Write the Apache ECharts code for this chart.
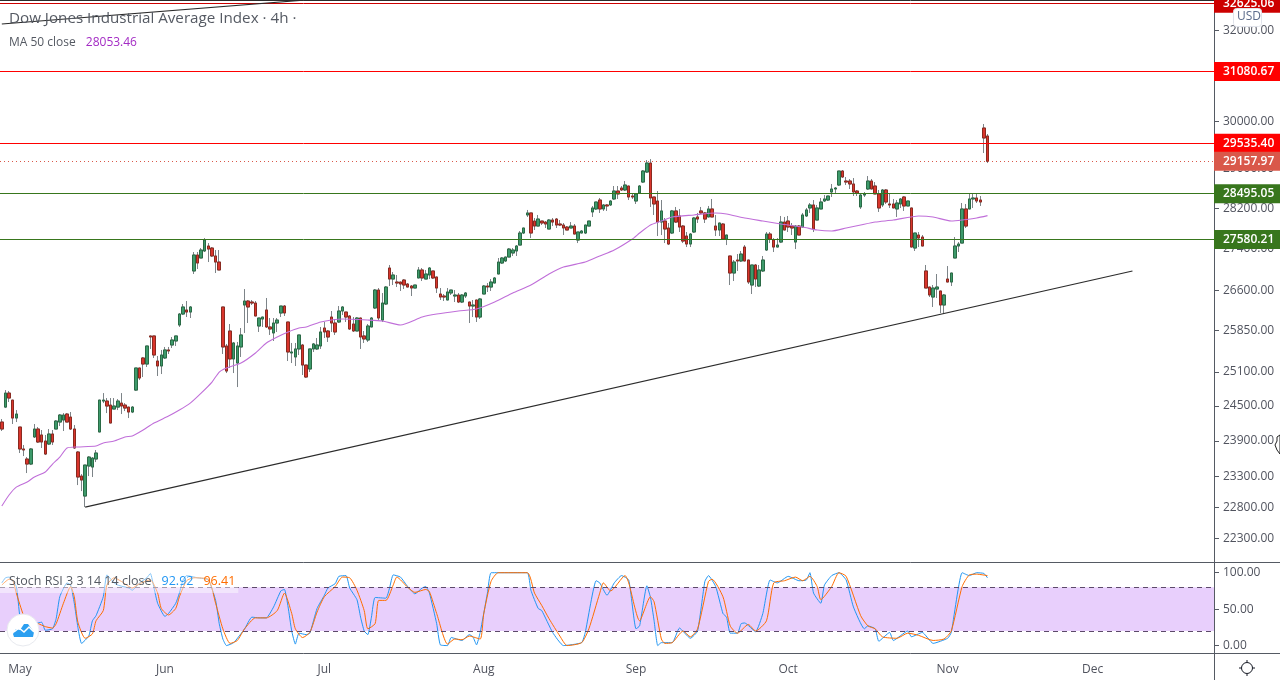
<!DOCTYPE html>
<html>
<head>
<meta charset="utf-8">
<title>Dow Jones Industrial Average Index 4h</title>
<script src="https://cdn.jsdelivr.net/npm/echarts@6/dist/echarts.min.js"></script>
<style>
html, body { margin: 0; padding: 0; background: #fff; }
#chart { width: 1280px; height: 680px; }
</style>
</head>
<body>
<div id="chart"></div>
<script>
// months on the time axis, and the bar each one starts on
var monthNames = ['May', 'Jun', 'Jul', 'Aug', 'Sep', 'Oct', 'Nov', 'Dec'];
var monthBars = [5, 45, 89, 133, 175, 217, 261, 301];
var barCount = 335; // includes the empty bars to the right of the last candle

var priceTicks = [32000, 30000, 29000, 28200, 27400, 26600, 25850, 25100, 24500, 23900, 23300, 22800, 22300];
var stochTicks = [0, 50, 100];

// open, close, low, high
var candles = [
[24223,24103,24069,24275],[24482,24727,24465,24780],[24727,24640,24570,24763],[24604,24292,24189,24604],[24292,24361,24223,24430],
[24137,23763,23695,24137],[23763,23746,23644,23830],[23594,23510,23360,23627],[23510,23763,23493,23780],[23967,24103,23950,24189],
[24103,23881,23864,24137],[24001,23881,23780,24086],[23898,23678,23661,24001],[23847,24018,23830,24103],[24018,23881,23830,24086],
[24103,24240,24103,24257],[24223,24344,24154,24361],[24257,24344,24069,24378],[24361,24223,24223,24378],[24309,24103,24086,24396],
[24103,23780,23763,24171],[23712,23294,23161,23729],[23310,23244,23062,23343],[22981,23493,22802,23493],[23477,23627,23310,23644],
[23460,23610,23294,23627],[23594,23695,23543,23746],[24052,24604,24052,24604],[24587,24604,24552,24727],[24587,24500,24378,24640],
[24517,24206,24206,24640],[24448,24500,24448,24640],[24482,24587,24430,24622],[24552,24500,24361,24727],[24517,24465,24413,24552],
[24482,24396,24292,24482],[24396,24482,24378,24500],[24780,25172,24763,25172],[25172,24993,24957,25172],[25352,25243,25011,25370],
[25243,25569,25190,25569],[25752,25733,25515,25752],[25752,25406,25352,25752],[25297,25208,25029,25388],[25208,25406,25064,25497],
[25352,25497,25334,25551],[25497,25479,25424,25551],[25587,25678,25533,25733],[25660,25752,25569,25752],[25953,26157,25917,26176],
[26157,26288,26138,26344],[26232,26194,26101,26400],[26194,26288,26083,26306],[26970,27278,26912,27336],[27278,27123,27008,27336],
[27220,27375,27220,27414],[27356,27570,27336,27609],[27453,27394,27142,27511],[27414,27259,27239,27433],[27259,27142,26931,27375],
[27142,26989,26989,27375],[26288,25551,25424,26288],[25569,25118,25082,25606],[25843,25334,25172,25972],[25334,25624,25082,25642],
[25261,25569,24833,25642],[25551,25770,25370,25898],[26325,26400,25807,26626],[26400,26288,25990,26419],[26381,26362,26325,26419],
[26362,26120,26120,26400],[25935,26083,25825,26083],[26064,26101,25917,26101],[26232,25917,25898,26457],[25917,25880,25770,26083],
[25807,25990,25660,26083],[25990,26045,25825,26083],[26176,26306,26101,26306],[26306,26176,26120,26325],[26009,25460,25297,26009],
[25442,25460,25261,25624],[25370,25515,25208,25624],[25515,25770,25406,25770],[25587,25225,25047,25606],[25225,25011,24993,25225],
[25154,25515,25100,25515],[25515,25606,25460,25624],[25515,25587,25497,25715],[25569,25825,25515,25917],[25898,25825,25715,26009],
[25843,25733,25642,25862],[26101,25990,25825,26213],[25990,25825,25770,26064],[26009,26213,25990,26306],[26213,26288,26138,26306],
[26194,26101,26009,26194],[26120,25880,25862,26138],[25972,25843,25825,26101],[25843,26083,25843,26101],[26083,25733,25515,26083],
[25752,25697,25624,25843],[25678,25935,25642,25972],[25917,26083,25917,26101],[26269,26607,26250,26626],[26607,26083,26045,26645],
[26045,26362,26009,26551],[26344,26664,26325,26683],[27027,26816,26683,27085],[26816,26893,26702,26950],[26759,26740,26664,26893],
[26759,26721,26589,26759],[26797,26702,26626,26816],[26721,26664,26664,26740],[26683,26645,26494,26702],[26645,26702,26645,26702],
[26836,26989,26836,27046],[26989,26836,26778,27027],[26816,26912,26816,26989],[26893,27027,26816,27046],[26970,26836,26816,26970],
[26855,26645,26551,26855],[26532,26475,26419,26645],[26494,26475,26400,26532],[26419,26570,26419,26645],[26551,26607,26513,26607],
[26494,26513,26381,26607],[26513,26381,26362,26551],[26381,26513,26362,26532],[26494,26551,26457,26570],[26381,26306,25990,26381],
[26306,26325,26101,26419],[26419,26101,26009,26419],[26101,26438,26064,26457],[26532,26683,26532,26702],[26683,26664,26570,26740],
[26664,26759,26589,26816],[26740,26836,26740,26855],[26912,27142,26912,27220],[27123,27220,27104,27239],[27162,27239,27142,27239],
[27239,27394,27239,27414],[27317,27375,27259,27414],[27356,27453,27259,27472],[27472,27708,27472,27747],[27708,27807,27688,27807],
[28066,28106,28026,28166],[28106,27708,27609,28106],[27945,27846,27767,28005],[27846,27985,27846,28066],[27945,27906,27866,27945],
[27925,27886,27807,27945],[27787,27965,27787,27985],[27965,27925,27846,28005],[27985,27866,27807,28005],[27886,27866,27846,27965],
[27866,27807,27669,27906],[27826,27767,27767,27846],[27807,27846,27807,27925],[27846,27688,27688,27886],[27570,27728,27511,27728],
[27708,27747,27708,27767],[27708,27866,27688,27866],[27846,27945,27846,27945],[28126,28206,28026,28246],[28186,28326,28166,28326],
[28366,28186,28106,28407],[28186,28266,28146,28286],[28266,28246,28146,28286],[28266,28346,28246,28366],[28387,28548,28366,28650],
[28548,28488,28387,28650],[28609,28569,28548,28650],[28569,28670,28548,28752],[28650,28427,28366,28650],[28447,28427,28387,28488],
[28346,28488,28286,28508],[28508,28650,28488,28670],[28731,28957,28711,28977],[28936,29122,28916,29184],[29122,28407,28226,29204],
[28427,28286,28066,28427],[28346,27925,27649,28548],[27925,28146,27669,28366],[27945,27787,27511,28005],[27807,27492,27472,27906],
[27708,28146,27688,28166],[28146,27925,27906,28226],[28046,27826,27728,28186],[27846,27550,27511,27866],[27649,27492,27433,27728],
[27492,27688,27433,27708],[27728,28005,27708,28026],[28026,27985,27906,28106],[28146,28106,28086,28226],[28106,27985,27906,28126],
[28026,28186,28026,28246],[28186,28026,28026,28387],[27846,27767,27649,28066],[27767,27906,27649,27906],[27886,27590,27590,27906],
[27590,27669,27472,27669],[27259,26931,26702,27259],[26931,27142,26778,27181],[27181,27162,26970,27297],[27162,27297,27142,27356],
[27433,27162,27162,27472],[27181,26759,26721,27181],[26702,27085,26532,27085],[27085,26816,26664,27104],[26683,26989,26664,27085],
[26970,27181,26950,27259],[27375,27688,27356,27728],[27688,27590,27511,27728],[27570,27433,27336,27609],[27433,27472,27433,27609],
[27531,27925,27511,28046],[27925,27767,27767,28026],[27945,27826,27728,28046],[27846,27807,27669,27906],[27531,27846,27394,27866],
[27846,27669,27669,27866],[27826,28066,27826,28106],[28046,28166,28026,28206],[28206,28266,28106,28306],[28266,27787,27728,28366],
[27965,28206,27965,28266],[28186,28326,28186,28407],[28346,28387,28326,28467],[28366,28447,28346,28447],[28528,28589,28427,28691],
[28589,28609,28508,28630],[28670,28957,28650,28957],[28957,28834,28813,28977],[28752,28731,28670,28834],[28752,28691,28589,28793],
[28691,28528,28447,28813],[28548,28508,28447,28569],[28226,28467,28186,28508],[28467,28488,28427,28528],[28589,28752,28569,28854],
[28752,28589,28589,28793],[28650,28488,28488,28731],[28488,28206,28126,28569],[28266,28569,28226,28589],[28569,28326,28286,28589],
[28286,28266,28206,28508],[28286,28206,28206,28387],[28186,28306,28026,28366],[28286,28387,28206,28407],[28427,28246,28146,28447],
[28246,28346,28246,28346],[28206,27433,27433,28206],[27414,27708,27356,27708],[27669,27609,27433,27728],[27629,27453,27453,27669],
[26970,26645,26645,27085],[26664,26513,26475,26664],[26475,26645,26288,26702],[26626,26664,26457,26912],[26589,26325,26176,26589],
[26325,26513,26157,26532],[26816,26759,26759,27065],[26759,26931,26683,26931],[27220,27453,27220,27629],[27453,27492,27336,27531],
[27511,28186,27511,28306],[28186,27846,27807,28286],[28186,28387,28186,28488],[28387,28407,28206,28488],[28407,28346,28306,28488],
[28366,28326,28246,28447],[29856,29645,29330,29942],[29687,29158,29122,29729]
];

// MA 50, read at [bar, value]
var ma50 = [
[0,22818],[2,22998],[4,23128],[7,23211],[9,23294],[12,23377],[14,23510],[16,23627],[18,23780],[21,23797],[26,23814],[28,23864],
[31,23898],[34,23967],[36,23984],[39,24086],[42,24206],[46,24326],[49,24430],[52,24552],[55,24727],[58,24922],[60,25100],[62,25172],
[66,25261],[70,25442],[73,25624],[76,25733],[79,25825],[82,25898],[84,25917],[88,26009],[94,26064],[101,26045],[105,26027],[110,25953],
[116,26101],[120,26157],[126,26213],[131,26250],[136,26381],[141,26551],[146,26702],[151,26912],[155,27046],[161,27142],[165,27259],
[169,27375],[174,27590],[176,27708],[179,27866],[182,27945],[185,28026],[191,28066],[197,28106],[200,28086],[205,28005],[210,27945],
[215,27886],[221,27826],[225,27767],[229,27747],[233,27807],[237,27866],[241,27925],[246,27965],[253,28046],[257,28026],[262,27945],
[265,27965],[269,28005],[272,28053]
];

// Stoch RSI, read at [bar, value]
var stochK = [
[0,86],[1,93],[2,94],[4,81],[5,39],[6,27],[9,30],[11,32],[12,21],[14,23],[15,37],[16,67],[18,86],[19,83],[20,58],[21,25],[22,3],[24,13],
[25,34],[26,41],[28,67],[29,97],[31,86],[32,83],[35,79],[36,76],[38,86],[40,93],[41,99],[42,79],[43,58],[45,40],[46,44],[48,58],[49,72],
[50,90],[51,96],[54,93],[57,90],[59,62],[60,30],[61,9],[62,0],[64,4],[67,23],[69,39],[71,38],[73,38],[75,53],[77,75],[78,77],[79,53],
[80,20],[81,2],[82,17],[84,15],[85,17],[87,51],[89,69],[90,79],[92,85],[93,95],[95,96],[96,79],[98,63],[99,39],[100,20],[101,15],[102,39],
[103,66],[106,65],[107,79],[108,97],[110,94],[112,81],[114,71],[116,79],[117,81],[118,72],[120,30],[121,1],[123,0],[124,11],[127,7],
[129,15],[130,12],[131,1],[132,18],[134,72],[135,100],[138,100],[145,100],[146,76],[148,51],[149,48],[152,18],[155,0],[160,4],[161,18],
[164,89],[165,86],[167,69],[169,86],[171,96],[173,90],[175,23],[176,27],[178,82],[179,66],[180,34],[181,0],[182,4],[185,4],[187,24],
[190,10],[192,20],[194,88],[195,96],[197,81],[199,44],[200,39],[201,17],[203,17],[204,30],[205,31],[208,19],[210,44],[212,90],[214,86],
[217,95],[220,89],[222,90],[223,100],[224,72],[226,58],[227,83],[229,96],[231,100],[233,90],[235,53],[238,23],[239,27],[241,23],[242,6],
[245,18],[246,7],[250,20],[251,12],[254,18],[257,3],[261,10],[262,18],[265,100],[267,96],[269,100],[271,99],[272,93]
];
var stochD = [
[0,83],[2,91],[3,90],[4,72],[6,41],[7,31],[10,30],[12,26],[14,24],[15,30],[17,58],[19,81],[20,67],[21,32],[23,10],[25,16],[26,34],[28,48],
[29,83],[31,93],[33,88],[36,79],[38,85],[41,90],[43,72],[44,51],[46,42],[48,51],[49,67],[51,89],[53,93],[57,91],[59,58],[61,23],[63,3],
[65,7],[67,23],[70,38],[73,38],[76,48],[78,72],[80,44],[81,23],[83,11],[85,18],[87,46],[89,67],[92,81],[94,94],[96,93],[98,76],[100,48],
[101,23],[103,30],[104,62],[106,62],[108,83],[109,94],[112,80],[114,73],[117,77],[118,74],[120,44],[123,2],[125,9],[127,8],[129,13],[132,9],
[133,44],[135,88],[137,100],[145,100],[147,72],[149,55],[151,37],[154,13],[156,0],[160,4],[162,23],[165,72],[166,86],[168,75],[172,96],
[173,86],[176,34],[179,67],[180,60],[182,9],[183,3],[185,4],[188,20],[190,12],[192,23],[195,88],[196,91],[199,67],[201,27],[203,17],[206,29],
[208,20],[211,34],[213,86],[216,89],[219,94],[221,89],[223,95],[225,81],[226,63],[229,81],[231,100],[233,95],[237,41],[239,27],[241,23],
[243,12],[247,10],[250,17],[253,14],[257,7],[260,9],[262,20],[265,81],[267,97],[269,98],[272,96]
];

// drawn levels and their price tags
var levelPrices = [32625.06, 31080.67, 29535.40, 28495.05, 27580.21];
var levelColors = ['#cc0000', '#ff0000', '#ff0000', '#38761d', '#38761d'];
var lastPrice = 29157.97;
// trend lines as [bar, price] pairs
var mainTrend = [[23, 22802], [312, 26970]];
var topTrend = [[0, 32149], [84, 32702]];
var topBorderPrice = 32695;

var textFont = "'Open Sans', sans-serif";
var axisColor = '#50535e';
var lineColor = '#555a63';
var bandColor = '#e8cffc';

var categories = [];
for (var i = 0; i < barCount; i++) {
    var m = monthBars.indexOf(i);
    categories.push(m >= 0 ? monthNames[m] : '');
}

function isMonthBar(index) {
    return monthBars.indexOf(index) >= 0;
}

// only the open-close part of each candle, drawn over the grey wicks
var bodies = candles.map(function (c) {
    return [c[0], c[1], Math.min(c[0], c[1]), Math.max(c[0], c[1])];
});

function priceTag(value, color) {
    return {
        yAxis: value,
        lineStyle: { color: color, width: 1, type: 'solid' },
        label: {
            show: true,
            position: 'end',
            distance: 0,
            formatter: value.toFixed(2),
            color: '#fff',
            fontFamily: textFont,
            fontSize: 12,
            fontWeight: 600,
            backgroundColor: color,
            width: 57,
            height: 13,
            lineHeight: 13,
            padding: [3, 0, 3, 9]
        }
    };
}

function trendLine(pair) {
    return [
        { coord: pair[0], lineStyle: { color: '#2b2b2b', width: 1.2, type: 'solid' }, label: { show: false } },
        { coord: pair[1] }
    ];
}

var levelLines = levelPrices.map(function (p, k) {
    return priceTag(p, levelColors[k]);
});
var lastTag = priceTag(lastPrice, '#d9584a');
lastTag.lineStyle = { color: '#d9584a', width: 1, type: [1, 3] };
levelLines.push(lastTag);
levelLines.push({ yAxis: topBorderPrice, lineStyle: { color: '#2b2b2b', width: 1, type: 'solid' }, label: { show: false } });
levelLines.push(trendLine(mainTrend));
levelLines.push(trendLine(topTrend));

var gearLines = [];
[[1247, 660, 1247, 662], [1247, 674, 1247, 676], [1239, 668, 1241, 668], [1253, 668, 1255, 668]].forEach(function (g) {
    gearLines.push({ type: 'line', z: 20, shape: { x1: g[0], y1: g[1], x2: g[2], y2: g[3] }, style: { stroke: '#131722', lineWidth: 1 } });
});

var option = {
    animation: false,
    backgroundColor: '#fff',
    title: [
        {
            left: 9, top: 11, padding: 0,
            text: 'Dow Jones Industrial Average Index · 4h ·',
            textStyle: { color: '#555a63', fontFamily: textFont, fontSize: 15.2, fontWeight: 'normal' }
        },
        {
            left: 9, top: 34, padding: 0,
            text: '{a|MA 50 close}  {b|28053.46}',
            textStyle: {
                fontWeight: 'normal',
                rich: {
                    a: { color: '#555a63', fontFamily: textFont, fontSize: 12, fontWeight: 'normal' },
                    b: { color: '#a32bc4', fontFamily: textFont, fontSize: 12, fontWeight: 'normal' }
                }
            }
        },
        {
            left: 0, top: 571, padding: [1, 3, 3, 9],
            backgroundColor: 'rgba(255,255,255,0.45)',
            text: '{a|Stoch RSI 3 3 14 14 close}  {b|92.92}  {c|96.41}',
            textStyle: {
                fontWeight: 'normal',
                rich: {
                    a: { color: '#555a63', fontFamily: textFont, fontSize: 12.5, fontWeight: 'normal' },
                    b: { color: '#2196f3', fontFamily: textFont, fontSize: 12.5, fontWeight: 'normal' },
                    c: { color: '#ff6d00', fontFamily: textFont, fontSize: 12.5, fontWeight: 'normal' }
                }
            }
        }
    ],
    grid: [
        { left: -0.6, right: 66, top: 0, height: 562 },
        { left: -0.6, right: 66, top: 562, height: 91.5 }
    ],
    xAxis: [
        {
            type: 'category', gridIndex: 0, data: categories, boundaryGap: true,
            axisLine: { onZero: false, lineStyle: { color: lineColor } },
            axisTick: { show: false }, axisLabel: { show: false }, splitLine: { show: false }
        },
        {
            type: 'category', gridIndex: 1, data: categories, boundaryGap: true,
            axisLine: { onZero: false, lineStyle: { color: lineColor } },
            axisTick: { alignWithLabel: true, length: 4, interval: function (i) { return isMonthBar(i); }, lineStyle: { color: lineColor } },
            axisLabel: { interval: function (i) { return isMonthBar(i); }, color: axisColor, fontFamily: textFont, fontSize: 12, margin: 10 },
            splitLine: { show: false }
        }
    ],
    yAxis: [
        {
            type: 'log', logBase: 10, gridIndex: 0, position: 'right', min: 21928, max: 32702,
            axisLine: { show: true, lineStyle: { color: lineColor } },
            axisTick: { show: true, length: 5, customValues: priceTicks, lineStyle: { color: lineColor } },
            axisLabel: {
                customValues: priceTicks, color: axisColor, fontFamily: textFont, fontSize: 12, margin: 9, padding: [2, 0, 0, 0],
                formatter: function (v) { return Number(v).toFixed(2); }
            },
            splitLine: { show: false }, minorTick: { show: false }
        },
        {
            type: 'value', gridIndex: 1, position: 'right', min: -10.9, max: 114.7,
            axisLine: { show: true, lineStyle: { color: lineColor } },
            axisTick: { show: true, length: 5, customValues: stochTicks, lineStyle: { color: lineColor } },
            axisLabel: {
                customValues: stochTicks, color: axisColor, fontFamily: textFont, fontSize: 12, margin: 9, padding: [2, 0, 0, 0],
                formatter: function (v) { return Number(v).toFixed(2); }
            },
            splitLine: { show: false }
        }
    ],
    series: [
        {
            name: 'wicks', type: 'candlestick', xAxisIndex: 0, yAxisIndex: 0, data: candles, barWidth: 3,
            itemStyle: { color: '#737b80', color0: '#737b80', borderColor: '#7d8488', borderColor0: '#7d8488', borderWidth: 1 },
            z: 3
        },
        {
            name: 'Dow Jones', type: 'candlestick', xAxisIndex: 0, yAxisIndex: 0, data: bodies, barWidth: 3,
            itemStyle: { color: '#3d9a6b', color0: '#d9352c', borderColor: '#2a6a45', borderColor0: '#8a2a20', borderWidth: 1 },
            z: 4
        },
        {
            name: 'MA 50', type: 'line', xAxisIndex: 0, yAxisIndex: 0, data: ma50, showSymbol: false, symbol: 'none',
            lineStyle: { color: '#c06fd9', width: 1.1 }, z: 5, silent: true, smooth: 0.2,
            markLine: { silent: true, symbol: 'none', animation: false, z: 6, data: levelLines }
        },
        {
            name: 'Stoch D', type: 'line', xAxisIndex: 1, yAxisIndex: 1, data: stochD, showSymbol: false, symbol: 'none',
            lineStyle: { color: '#ff6d00', width: 1 }, z: 4, silent: true, smooth: 0.2,
            markArea: {
                silent: true,
                itemStyle: { color: bandColor },
                data: [[{ yAxis: 20 }, { yAxis: 80 }]]
            },
            markLine: {
                silent: true, symbol: 'none', animation: false,
                label: { show: false },
                lineStyle: { color: '#5d4a6a', width: 1, type: [5, 4] },
                data: [{ yAxis: 20 }, { yAxis: 80 }]
            }
        },
        {
            name: 'Stoch K', type: 'line', xAxisIndex: 1, yAxisIndex: 1, data: stochK, showSymbol: false, symbol: 'none',
            lineStyle: { color: '#2196f3', width: 1 }, z: 3, silent: true, smooth: 0.15
        }
    ],
    graphic: [
        { type: 'line', z: 20, shape: { x1: 1214.5, y1: 653, x2: 1214.5, y2: 680 }, style: { stroke: lineColor, lineWidth: 1 } },
        { type: 'line', z: 20, shape: { x1: 1214, y1: 562.5, x2: 1280, y2: 562.5 }, style: { stroke: lineColor, lineWidth: 1 } },
        { type: 'line', z: 20, shape: { x1: 1214, y1: 653.5, x2: 1280, y2: 653.5 }, style: { stroke: lineColor, lineWidth: 1 } },
        // USD button
        { type: 'rect', z: 20, shape: { x: 1233.5, y: 8.5, width: 28, height: 18, r: 3 }, style: { fill: '#fff', stroke: '#e0e3eb', lineWidth: 1 } },
        { type: 'text', z: 21, left: 1237, top: 11, style: { text: 'USD', fill: '#5b6b8a', font: '12px ' + textFont } },
        // settings icon
        { type: 'circle', z: 20, shape: { cx: 1247, cy: 668, r: 5.5 }, style: { fill: '#fff', stroke: '#131722', lineWidth: 1 } }
    ].concat(gearLines).concat([
        // mouse pointer at the right edge
        { type: 'polygon', z: 22, shape: { points: [[1280, 435], [1277, 437], [1277, 441], [1275, 445], [1277, 450], [1280, 454]] }, style: { fill: '#fff', stroke: '#222', lineWidth: 1 } },
        // logo
        { type: 'circle', z: 20, shape: { cx: 23, cy: 630, r: 16 }, style: { fill: '#fff', stroke: '#e8eaef', lineWidth: 1 } },
        { type: 'polygon', z: 21, shape: { points: [[13, 634], [16, 629], [20, 630], [24, 624], [28, 624], [31, 628], [34, 632], [33, 637], [14, 637]] }, style: { fill: '#2c9ff0' } },
        { type: 'polyline', z: 22, shape: { points: [[14, 632], [19, 628], [24, 632], [29, 627], [34, 632]] }, style: { stroke: '#fff', fill: 'none', lineWidth: 1.5 } }
    ])
};

var myChart = echarts.init(document.getElementById('chart'), null, { renderer: 'canvas' });
myChart.setOption(option);
</script>
</body>
</html>
